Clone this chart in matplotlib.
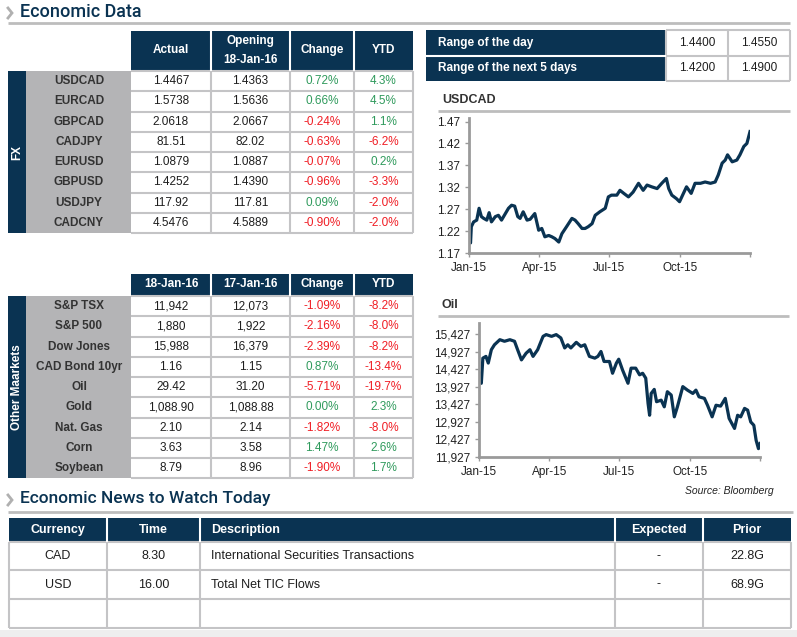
import matplotlib
matplotlib.use("Agg")
import matplotlib.pyplot as plt
from matplotlib.patches import Rectangle
from matplotlib.ticker import FuncFormatter

# ---------------- data ----------------
fx_pairs = ["USDCAD", "EURCAD", "GBPCAD", "CADJPY", "EURUSD", "GBPUSD", "USDJPY", "CADCNY"]
fx_actual = ["1.4467", "1.5738", "2.0618", "81.51", "1.0879", "1.4252", "117.92", "4.5476"]
fx_opening = ["1.4363", "1.5636", "2.0667", "82.02", "1.0887", "1.4390", "117.81", "4.5889"]
fx_change = ["0.72%", "0.66%", "-0.24%", "-0.63%", "-0.07%", "-0.96%", "0.09%", "-0.90%"]
fx_ytd = ["4.3%", "4.5%", "1.1%", "-6.2%", "0.2%", "-3.3%", "-2.0%", "-2.0%"]
fx_header = ["Actual", "Opening\n18-Jan-16", "Change", "YTD"]

mk_names = ["S&P TSX", "S&P 500", "Dow Jones", "CAD Bond 10yr", "Oil", "Gold", "Nat. Gas", "Corn", "Soybean"]
mk_today = ["11,942", "1,880", "15,988", "1.16", "29.42", "1,088.90", "2.10", "3.63", "8.79"]
mk_prev = ["12,073", "1,922", "16,379", "1.15", "31.20", "1,088.88", "2.14", "3.58", "8.96"]
mk_change = ["-1.09%", "-2.16%", "-2.39%", "0.87%", "-5.71%", "0.00%", "-1.82%", "1.47%", "-1.90%"]
mk_ytd = ["-8.2%", "-8.0%", "-8.2%", "-13.4%", "-19.7%", "2.3%", "-8.0%", "2.6%", "1.7%"]
mk_header = ["18-Jan-16", "17-Jan-16", "Change", "YTD"]

range_labels = ["Range of the day", "Range of the next 5 days"]
range_low = ["1.4400", "1.4200"]
range_high = ["1.4550", "1.4900"]

news_header = ["Currency", "Time", "Description", "Expected", "Prior"]
news_currency = ["CAD", "USD", ""]
news_time = ["8.30", "16.00", ""]
news_desc = ["International Securities Transactions", "Total Net TIC Flows", ""]
news_expected = ["-", "-", ""]
news_prior = ["22.8G", "68.9G", ""]

month_ticks = [0, 91, 181, 273]
month_labels = ["Jan-15", "Apr-15", "Jul-15", "Oct-15"]

usdcad_days = [0, 2, 3, 6, 10, 13, 16, 19, 23, 26, 29, 34, 38, 42, 47, 51, 55, 59, 63, 66,
               70, 75, 79, 85, 90, 94, 98, 103, 107, 111, 116, 120, 126, 133, 137, 141, 146,
               150, 154, 159, 163, 169, 176, 180, 184, 191, 195, 200, 206, 212, 219, 225, 230,
               236, 243, 249, 255, 258, 262, 268, 272, 277, 281, 287, 292, 299, 305, 312, 318,
               322, 327, 331, 334, 340, 346, 350, 355, 359, 363]
usdcad_vals = [1.199, 1.193, 1.230, 1.241, 1.245, 1.272, 1.253, 1.249, 1.245, 1.262, 1.241,
               1.253, 1.256, 1.245, 1.260, 1.272, 1.279, 1.277, 1.253, 1.249, 1.264, 1.245,
               1.247, 1.260, 1.222, 1.226, 1.207, 1.210, 1.207, 1.203, 1.195, 1.214, 1.230,
               1.249, 1.245, 1.237, 1.226, 1.226, 1.230, 1.237, 1.256, 1.264, 1.272, 1.298,
               1.302, 1.302, 1.313, 1.306, 1.298, 1.309, 1.329, 1.313, 1.325, 1.321, 1.317,
               1.329, 1.340, 1.317, 1.302, 1.294, 1.287, 1.306, 1.321, 1.306, 1.329, 1.329,
               1.332, 1.329, 1.332, 1.348, 1.375, 1.382, 1.394, 1.378, 1.382, 1.394, 1.413,
               1.420, 1.447]

oil_days = [0, 3, 5, 9, 12, 16, 20, 27, 33, 40, 46, 50, 55, 61, 66, 70, 76, 83, 87, 94, 100,
            106, 111, 115, 119, 126, 132, 137, 143, 150, 154, 158, 162, 169, 173, 178, 181,
            186, 193, 197, 203, 208, 212, 216, 219, 221, 223, 227, 230, 236, 240, 244, 249,
            253, 257, 264, 270, 277, 281, 285, 292, 296, 302, 307, 313, 319, 324, 331, 335,
            339, 344, 348, 352, 356, 359, 362, 364]
oil_vals = [14310, 14024, 14740, 14790, 14600, 14980, 15120, 15265, 15220, 15265, 15220,
            14980, 14690, 14880, 14980, 14790, 14980, 15360, 15410, 15360, 15410, 15315,
            15030, 15120, 15030, 15190, 15075, 15120, 14790, 14740, 14790, 14930, 14645,
            14645, 14310, 14600, 14710, 14400, 14025, 14455, 14455, 14265, 14310, 14170,
            13450, 13115, 13735, 13850, 13500, 13545, 13355, 13785, 13690, 13070, 13355,
            13930, 13830, 13735, 13830, 13640, 13595, 13400, 13070, 13400, 13375, 13595,
            13025, 12740, 13115, 13070, 13310, 13260, 12925, 12830, 12400, 12165, 12310]
usdcad_yticks = [1.17, 1.22, 1.27, 1.32, 1.37, 1.42, 1.47]
oil_yticks = [11927, 12427, 12927, 13427, 13927, 14427, 14927, 15427]

# ---------------- style ----------------
NAVY = "#0a3352"
GRAYCELL = "#b4b4b6"
LINE = "#c4c4c6"
GREEN = "#2f9a5c"
RED = "#f01d24"
TXT = "#1e1e1e"
NARROW = ["Liberation Sans", "DejaVu Sans"]
TITLEF = ["Roboto", "Liberation Sans", "DejaVu Sans"]
FS = 8.5

W, H = 797, 637
fig = plt.figure(figsize=(W / 100, H / 100), dpi=100)
fig.patch.set_facecolor("white")
ax = fig.add_axes([0, 0, 1, 1])
ax.set_xlim(0, W)
ax.set_ylim(H, 0)
ax.axis("off")


def rect(x0, y0, x1, y1, color, z=1):
    ax.add_patch(Rectangle((x0, y0), x1 - x0, y1 - y0, facecolor=color,
                           edgecolor="none", zorder=z))


def hline(y, x0, x1, color=LINE, lw=1.5, z=3):
    ax.plot([x0, x1], [y, y], color=color, lw=lw, zorder=z, solid_capstyle="butt")


def vline(x, y0, y1, color=LINE, lw=1.5, z=3):
    ax.plot([x, x], [y0, y1], color=color, lw=lw, zorder=z, solid_capstyle="butt")


def txt(x, y, s, size=FS, color=TXT, ha="center", weight="normal", fam=NARROW, **kw):
    ax.text(x, y, s, fontsize=size, color=color, ha=ha, va="center",
            fontweight=weight, family=fam, zorder=5, **kw)


def chevron(x, y):
    ax.plot([x - 2, x + 2, x - 2], [y - 5, y, y + 5], color="#b0b0b0", lw=2.0,
            zorder=4, solid_joinstyle="miter")


def signcol(s):
    return RED if s.strip().startswith("-") else GREEN


# ---------------- section titles ----------------
chevron(10, 13)
txt(20, 12, "Economic Data", size=13, color=NAVY, ha="left", weight="medium", fam=TITLEF)
hline(23, 8, 790, color="#bdbdbd", lw=2)

chevron(10, 500)
txt(20, 499, "Economic News to Watch Today", size=12.5, color=NAVY, ha="left",
    weight="medium", fam=TITLEF)
hline(512, 8, 793, color="#bdbdbd", lw=2)

# ---------------- data tables ----------------
cols = [131, 211, 290, 354, 413]
col_c = [(cols[i] + cols[i + 1]) / 2 for i in range(4)]


def data_table(h0, h1, side_label, names, c1, c2, c3, c4, header, row_h):
    rect(cols[0], h0, cols[-1], h1, NAVY)
    for x in cols[1:-1]:
        vline(x, h0, h1, color="white", lw=1.5, z=4)
    for i, hd in enumerate(header):
        if "\n" in hd:
            a, b = hd.split("\n")
            txt(col_c[i], h0 + (h1 - h0) * 0.25, a, color="white", weight="bold")
            txt(col_c[i], h0 + (h1 - h0) * 0.73, b, color="white", weight="bold")
        else:
            txt(col_c[i], (h0 + h1) / 2 - 1, hd, color="white", weight="bold")
    n = len(names)
    top = h1
    bot = top + n * row_h
    rect(8, top, 26, bot, NAVY)
    rect(26, top, cols[0], bot, GRAYCELL)
    txt(17, (top + bot) / 2, side_label, color="white", weight="bold", rotation=90)
    for r in range(n + 1):
        hline(top + r * row_h, cols[0], cols[-1])
    for x in cols[1:]:
        vline(x, top, bot)
    for r in range(n):
        yc = top + (r + 0.5) * row_h
        txt(79, yc, names[r], weight="bold", color="#333333")
        txt(col_c[0], yc, c1[r])
        txt(col_c[1], yc, c2[r])
        txt(col_c[2], yc, c3[r], color=signcol(c3[r]))
        txt(col_c[3], yc, c4[r], color=signcol(c4[r]))


data_table(31, 71, "FX", fx_pairs, fx_actual, fx_opening, fx_change, fx_ytd, fx_header, 20.25)
data_table(274, 296, "Other Maarkets", mk_names, mk_today, mk_prev, mk_change, mk_ytd,
           mk_header, 20.25)

# ---------------- range table ----------------
rect(426, 30, 666, 81, NAVY)
hline(55.5, 426, 666, color="white", lw=1.5, z=4)
for y in (30, 55.5, 81):
    hline(y, 666, 790)
for x in (666, 728, 790):
    vline(x, 30, 81)
for i in range(2):
    yc = 43 + i * 25
    txt(438, yc, range_labels[i], color="white", weight="bold", ha="left")
    txt(697, yc, range_low[i])
    txt(759, yc, range_high[i])

# ---------------- chart titles ----------------
txt(442, 100, "USDCAD", size=9, weight="bold", color="#333333", ha="left")
hline(111, 438, 790, color="#bdbdbd", lw=2)
txt(442, 305, "Oil", size=9, weight="bold", color="#333333", ha="left")
hline(316, 438, 789, color="#bdbdbd", lw=2)
txt(774, 491, "Source: Bloomberg", size=7.5, color="#222222", ha="right", style="italic")

# ---------------- news table ----------------
ncols = [9, 107, 200, 615, 703, 791]
rect(ncols[0], 518, ncols[-1], 542, NAVY)
for x in ncols[1:-1]:
    vline(x, 518, 542, color="white", lw=1.5, z=4)
row_edges = [542, 570, 599, 628]
for y in row_edges:
    hline(y, ncols[0], ncols[-1])
for x in ncols:
    vline(x, 542, 628)
nc = [(ncols[i] + ncols[i + 1]) / 2 for i in range(5)]
for i, hd in enumerate(news_header):
    if hd == "Description":
        txt(211, 530, hd, color="white", weight="bold", ha="left", size=9)
    else:
        txt(nc[i], 530, hd, color="white", weight="bold", size=9)
for r in range(3):
    yc = (row_edges[r] + row_edges[r + 1]) / 2
    txt(nc[0], yc, news_currency[r], size=9)
    txt(nc[1], yc, news_time[r], size=9)
    txt(211, yc, news_desc[r], ha="left", size=9)
    txt(nc[3], yc, news_expected[r], size=9)
    txt(nc[4], yc, news_prior[r], size=9)
rect(0, 630, W, H, "#eeeeee", z=0)


# ---------------- line charts ----------------
def px_axes(x0, y0, x1, y1):
    return fig.add_axes([x0 / W, 1 - y1 / H, (x1 - x0) / W, (y1 - y0) / H])


def style_chart(a, yticks, fmt, xmax, ylim):
    a.set_xlim(0, xmax)
    a.set_ylim(*ylim)
    a.set_yticks(yticks)
    a.yaxis.set_major_formatter(FuncFormatter(fmt))
    a.set_xticks(month_ticks + [xmax])
    a.set_xticklabels(month_labels + [""])
    for s in ("top", "right"):
        a.spines[s].set_visible(False)
    for s in ("left", "bottom"):
        a.spines[s].set_color("#9a9a9a")
        a.spines[s].set_linewidth(2)
    a.tick_params(axis="both", colors="#9a9a9a", length=3, width=1, labelcolor="#222222",
                  labelsize=8.5)
    for lab in a.get_xticklabels() + a.get_yticklabels():
        lab.set_family(NARROW)
    a.patch.set_alpha(0)


ax1 = px_axes(469, 118, 750, 253)
ax1.plot(usdcad_days, usdcad_vals, color=NAVY, lw=2.3, solid_joinstyle="round")
style_chart(ax1, usdcad_yticks, lambda v, p: f"{v:.2f}", 363, (1.17, 1.478))

ax2 = px_axes(479, 323, 760, 457)
ax2.plot(oil_days, oil_vals, color=NAVY, lw=2.3, solid_joinstyle="round")
style_chart(ax2, oil_yticks, lambda v, p: f"{v:,.0f}", 364, (11927, 15740))

fig.savefig("out.png", dpi=100)
